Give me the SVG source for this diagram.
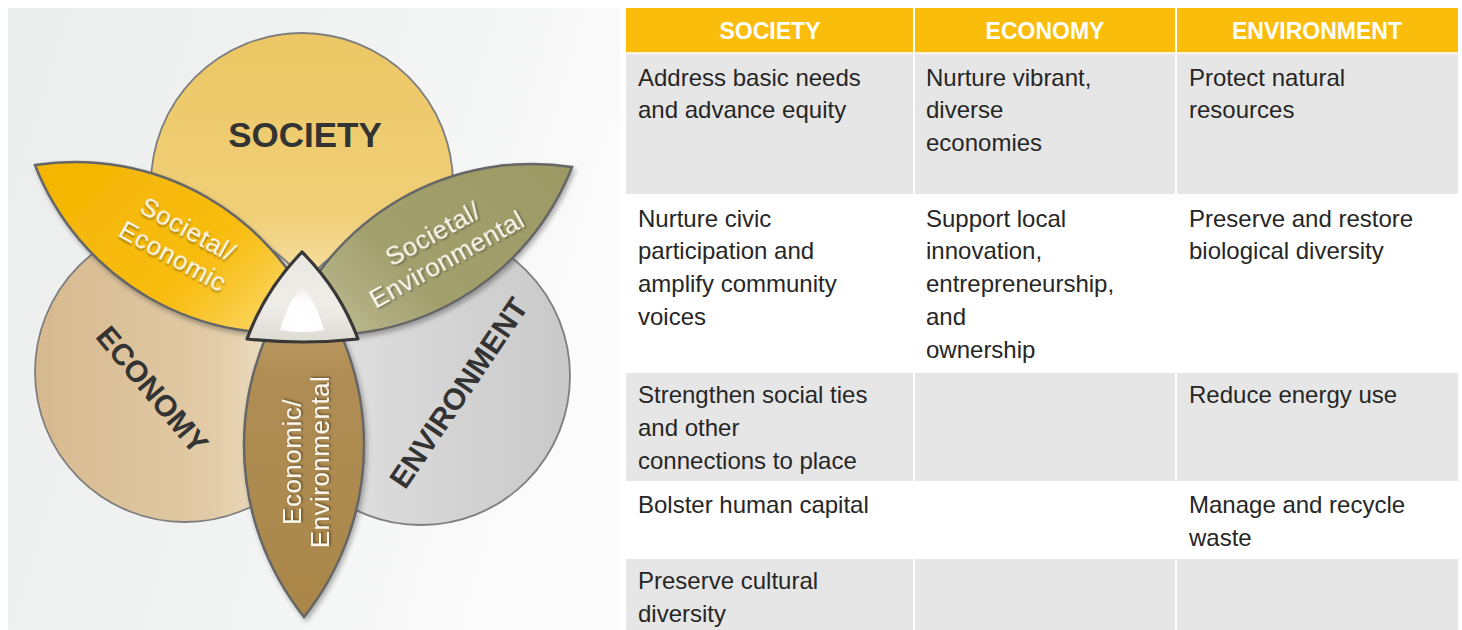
<svg xmlns="http://www.w3.org/2000/svg" width="1462" height="630" viewBox="0 0 1462 630">
<defs>
<style>
.cell{font-family:"Liberation Sans",Arial,sans-serif;font-size:24px;fill:#262626}
.hdr{font-family:"Liberation Sans",Arial,sans-serif;font-size:23px;font-weight:bold;fill:#ffffff;text-anchor:middle}
.big{font-family:"Liberation Sans",Arial,sans-serif;font-weight:bold;fill:#333333;text-anchor:middle}
.lbl{font-family:"Liberation Sans",Arial,sans-serif;font-size:26px;fill:#fbf8f0;text-anchor:middle;letter-spacing:0.5px}
.circ{stroke:#7e7e7e;stroke-width:1.8}
.petal{stroke:#666666;stroke-width:2.5}
.gray{fill:#e6e6e6}
.white{fill:#ffffff}
</style>
<linearGradient id="bg" x1="0" y1="0" x2="1" y2="0.3">
<stop offset="0" stop-color="#eceeee"/>
<stop offset="0.55" stop-color="#f1f2f2"/>
<stop offset="1" stop-color="#fbfbfb"/>
</linearGradient>
<linearGradient id="gSoc" x1="0" y1="0" x2="0" y2="1">
<stop offset="0" stop-color="#ecc764"/>
<stop offset="0.6" stop-color="#f0cf78"/>
<stop offset="0.85" stop-color="#f7e2aa"/>
<stop offset="1" stop-color="#f2d88e"/>
</linearGradient>
<linearGradient id="gEco" x1="0" y1="0" x2="1" y2="0">
<stop offset="0" stop-color="#d6b98e"/>
<stop offset="0.6" stop-color="#e2cba7"/>
<stop offset="0.85" stop-color="#f1e4cd"/>
<stop offset="1" stop-color="#e4cfae"/>
</linearGradient>
<linearGradient id="gEnv" x1="0" y1="0" x2="1" y2="0">
<stop offset="0" stop-color="#ededed"/>
<stop offset="0.3" stop-color="#dcdcdc"/>
<stop offset="1" stop-color="#c9c9c9"/>
</linearGradient>
<linearGradient id="gSE" x1="0" y1="0" x2="1" y2="0.6">
<stop offset="0" stop-color="#f4b400"/>
<stop offset="0.7" stop-color="#f8bd12"/>
<stop offset="1" stop-color="#fad35a"/>
</linearGradient>
<linearGradient id="gSEnv" x1="1" y1="0" x2="0" y2="0.6">
<stop offset="0" stop-color="#9c9965"/>
<stop offset="0.7" stop-color="#a2a06d"/>
<stop offset="1" stop-color="#b8b68c"/>
</linearGradient>
<linearGradient id="gEE" x1="0" y1="1" x2="0" y2="0">
<stop offset="0" stop-color="#a98649"/>
<stop offset="0.7" stop-color="#b08d54"/>
<stop offset="1" stop-color="#c8a670"/>
</linearGradient>
<linearGradient id="gTri" x1="0" y1="0" x2="0" y2="1">
<stop offset="0" stop-color="#e9e7e2"/>
<stop offset="0.6" stop-color="#efede8"/>
<stop offset="1" stop-color="#dedbd4"/>
</linearGradient>
<radialGradient id="gTriIn" cx="0.5" cy="0.8" r="0.7">
<stop offset="0" stop-color="#ffffff"/>
<stop offset="0.7" stop-color="#ffffff" stop-opacity="0.95"/>
<stop offset="1" stop-color="#ffffff" stop-opacity="0.3"/>
</radialGradient>
<filter id="shadow" x="-20%" y="-20%" width="140%" height="140%">
<feDropShadow dx="2" dy="3" stdDeviation="2.5" flood-color="#000000" flood-opacity="0.3"/>
</filter>
<filter id="tshadow" x="-10%" y="-30%" width="120%" height="160%">
<feDropShadow dx="1" dy="1.5" stdDeviation="1" flood-color="#000000" flood-opacity="0.45"/>
</filter>
</defs>

<rect x="0" y="0" width="1462" height="630" fill="#ffffff"/>
<rect x="8" y="8" width="612" height="622" fill="url(#bg)"/>

<g id="circle-society">
<circle class="circ" cx="302" cy="184" r="151" fill="url(#gSoc)"/>
<text class="big" x="305" y="147" font-size="35">SOCIETY</text>
</g>
<g id="circle-economy">
<circle class="circ" cx="185" cy="372" r="150" fill="url(#gEco)"/>
<text class="big" font-size="30" transform="translate(152,390) rotate(50)" y="10">ECONOMY</text>
</g>
<g id="circle-environment">
<circle class="circ" cx="421" cy="376" r="149" fill="url(#gEnv)"/>
<text class="big" font-size="30" transform="translate(459,393) rotate(-56)" y="10">ENVIRONMENT</text>
</g>

<g id="petal-societal-economic">
<path class="petal" filter="url(#shadow)" fill="url(#gSE)" d="M35,165 A263.7,263.7 0 0 1 320.8,330 A263.7,263.7 0 0 1 35,165 Z"/>
<g transform="translate(180,243) rotate(29)" filter="url(#tshadow)">
<text class="lbl" x="0" y="-7">Societal/</text>
<text class="lbl" x="0" y="24">Economic</text>
</g>
</g>
<g id="petal-societal-environmental">
<path class="petal" filter="url(#shadow)" fill="url(#gSEnv)" d="M572,167 A263.7,263.7 0 0 1 286.2,332 A263.7,263.7 0 0 1 572,167 Z"/>
<g transform="translate(440,247) rotate(-29)" filter="url(#tshadow)">
<text class="lbl" x="0" y="-6">Societal/</text>
<text class="lbl" x="0" y="23">Environmental</text>
</g>
</g>
<g id="petal-economic-environmental">
<path class="petal" filter="url(#shadow)" fill="url(#gEE)" d="M304,617 A276.5,276.5 0 0 1 304,273 A276.5,276.5 0 0 1 304,617 Z"/>
<g transform="translate(306,462) rotate(-90)" filter="url(#tshadow)">
<text class="lbl" x="0" y="-5">Economic/</text>
<text class="lbl" x="0" y="23">Environmental</text>
</g>
</g>

<g id="center-triangle">
<path d="M302,252 Q265,290 247,339 Q302.5,345 358,339 Q340,290 302,252 Z" fill="url(#gTri)" stroke="#383838" stroke-width="3.2" stroke-linejoin="round"/>
<path d="M302,286 Q287,304 280,330 Q302,334 324,330 Q317,304 302,286 Z" fill="url(#gTriIn)"/>
</g>

<g id="connectors"></g>

<g id="table">
<rect x="626" y="8" width="832" height="45" fill="#fbbd0b"/>
<rect class="gray" x="626" y="53" width="832" height="141"/>
<rect class="white" x="626" y="194" width="832" height="179"/>
<rect class="gray" x="626" y="373" width="832" height="108"/>
<rect class="white" x="626" y="481" width="832" height="78"/>
<rect class="gray" x="626" y="559" width="832" height="71"/>
<line x1="914" y1="8" x2="914" y2="630" stroke="#ffffff" stroke-width="2"/>
<line x1="1176" y1="8" x2="1176" y2="630" stroke="#ffffff" stroke-width="2"/>
<line x1="626" y1="53" x2="1458" y2="53" stroke="#ffffff" stroke-width="1.5"/>

<text class="hdr" x="770" y="39">SOCIETY</text>
<text class="hdr" x="1045" y="39">ECONOMY</text>
<text class="hdr" x="1317" y="39">ENVIRONMENT</text>

<text class="cell" x="638" y="86">Address basic needs</text>
<text class="cell" x="638" y="118">and advance equity</text>
<text class="cell" x="926" y="86">Nurture vibrant,</text>
<text class="cell" x="926" y="118">diverse</text>
<text class="cell" x="926" y="151">economies</text>
<text class="cell" x="1189" y="86">Protect natural</text>
<text class="cell" x="1189" y="118">resources</text>

<text class="cell" x="638" y="227">Nurture civic</text>
<text class="cell" x="638" y="259">participation and</text>
<text class="cell" x="638" y="292">amplify community</text>
<text class="cell" x="638" y="325">voices</text>
<text class="cell" x="926" y="227">Support local</text>
<text class="cell" x="926" y="259">innovation,</text>
<text class="cell" x="926" y="292">entrepreneurship,</text>
<text class="cell" x="926" y="325">and</text>
<text class="cell" x="926" y="358">ownership</text>
<text class="cell" x="1189" y="227">Preserve and restore</text>
<text class="cell" x="1189" y="259">biological diversity</text>

<text class="cell" x="638" y="403">Strengthen social ties</text>
<text class="cell" x="638" y="436">and other</text>
<text class="cell" x="638" y="469">connections to place</text>
<text class="cell" x="1189" y="403">Reduce energy use</text>

<text class="cell" x="638" y="513">Bolster human capital</text>
<text class="cell" x="1189" y="513">Manage and recycle</text>
<text class="cell" x="1189" y="546">waste</text>

<text class="cell" x="638" y="589">Preserve cultural</text>
<text class="cell" x="638" y="622">diversity</text>
</g>
</svg>
